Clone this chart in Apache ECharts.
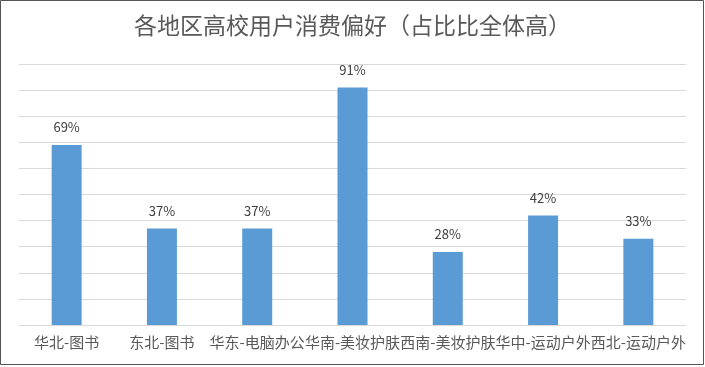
<!DOCTYPE html>
<html>
<head>
<meta charset="utf-8">
<script src="https://cdn.jsdelivr.net/npm/echarts@6/dist/echarts.min.js"></script>
<style>
html,body{margin:0;padding:0;background:#fff;}
#c{width:705px;height:367px;}
</style>
</head>
<body>
<div id="c"></div>
<script>
const titleText = '各地区高校用户消费偏好（占比比全体高）';
const categories = ['华北-图书', '东北-图书', '华东-电脑办公', '华南-美妆护肤', '西南-美妆护肤', '华中-运动户外', '西北-运动户外'];
const values = [69, 37, 37, 91, 28, 42, 33];

const chart = echarts.init(document.getElementById('c'), null, {renderer: 'canvas'});
chart.setOption({
  animation: false,
  backgroundColor: '#fff',
  title: {
    text: titleText,
    left: 'center',
    top: 9,
    textStyle: {
      fontFamily: 'Noto Sans CJK SC',
      fontSize: 23,
      fontWeight: 'normal',
      color: '#595959'
    }
  },
  graphic: [{
    type: 'rect',
    shape: {x: 0.5, y: 0.5, width: 703, height: 364},
    style: {fill: 'none', stroke: '#555', lineWidth: 1},
    silent: true
  }],
  grid: {left: 19, right: 19, top: 64, bottom: 42, containLabel: false},
  xAxis: {
    type: 'category',
    data: categories,
    axisLine: {show: true, lineStyle: {color: '#d9d9d9', width: 1}},
    axisTick: {show: false},
    axisLabel: {
      interval: 0,
      margin: 10,
      fontFamily: 'Noto Sans CJK SC',
      fontSize: 15,
      color: '#595959'
    }
  },
  yAxis: {
    type: 'value',
    min: 0,
    max: 100,
    interval: 10,
    axisLine: {show: false},
    axisTick: {show: false},
    axisLabel: {show: false},
    splitLine: {lineStyle: {color: '#d9d9d9', width: 1}}
  },
  series: [{
    type: 'bar',
    data: values,
    barWidth: 30,
    itemStyle: {color: '#5b9bd5'},
    label: {
      show: true,
      position: 'top',
      distance: 11,
      formatter: p => p.value + '%',
      fontFamily: 'Noto Sans CJK SC',
      fontSize: 13,
      color: '#404040'
    }
  }]
});
</script>
</body>
</html>
